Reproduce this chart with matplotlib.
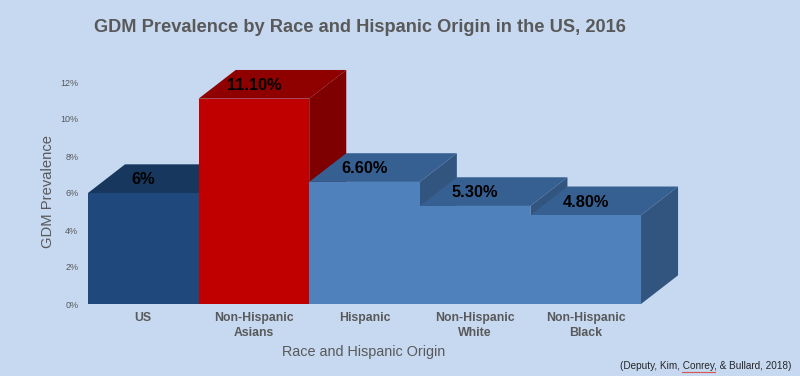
import matplotlib
matplotlib.use('Agg')
import matplotlib.pyplot as plt
from matplotlib.lines import Line2D
from matplotlib.patches import Polygon, Rectangle

plt.rcParams['font.family'] = ['Liberation Sans', 'DejaVu Sans']

categories = ['US', 'Non-Hispanic\nAsians', 'Hispanic', 'Non-Hispanic\nWhite', 'Non-Hispanic\nBlack']
values = [6.0, 11.1, 6.6, 5.3, 4.8]
value_labels = ['6%', '11.10%', '6.60%', '5.30%', '4.80%']
y_ticks = [0, 2, 4, 6, 8, 10, 12]
y_tick_labels = ['0%', '2%', '4%', '6%', '8%', '10%', '12%']

front_colors = ['#1F497D', '#C00000', '#4F81BD', '#4F81BD', '#4F81BD']
top_colors = ['#17375E', '#8F0000', '#376092', '#376092', '#376092']
side_colors = ['#17375E', '#7F0000', '#31557F', '#31557F', '#31557F']

BG = '#C6D9F1'
GRAY = '#595959'
# glebokosc "3D" w jednostkach osi
DX = 0.335
DY = 1.55

W, H = 800, 377
fig = plt.figure(figsize=(W / 100, H / 100), dpi=100, facecolor=BG)
ax = fig.add_axes([88 / W, (H - 304) / H, 553 / W, 222 / H])
ax.set_facecolor('none')
ax.set_xlim(0, len(values))
ax.set_ylim(0, 12)

for i, v in enumerate(values):
    side = [(i + 1, 0), (i + 1 + DX, DY), (i + 1 + DX, v + DY), (i + 1, v)]
    top = [(i, v), (i + 1, v), (i + 1 + DX, v + DY), (i + DX, v + DY)]
    ax.add_patch(Polygon(side, facecolor=side_colors[i], edgecolor='none', clip_on=False))
    ax.add_patch(Polygon(top, facecolor=top_colors[i], edgecolor='none', clip_on=False))
    ax.add_patch(Rectangle((i, 0), 1, v, facecolor=front_colors[i], edgecolor='none', clip_on=False))

for i, v in enumerate(values):
    ax.annotate(value_labels[i], (i + 0.5, v), xytext=(0, 9.5), textcoords='offset points',
                ha='center', va='center', fontsize=11.8, fontweight='bold', color='black')

for s in ax.spines.values():
    s.set_visible(False)

ax.set_yticks(y_ticks)
ax.set_yticklabels(y_tick_labels, fontsize=6.5, color=GRAY)
ax.set_xticks([i + 0.5 for i in range(len(values))])
ax.set_xticklabels(categories, fontsize=8.8, color=GRAY, fontweight='bold', linespacing=1.3)
ax.tick_params(axis='both', length=0)
ax.tick_params(axis='x', pad=6)
ax.tick_params(axis='y', pad=7)

fig.text(364 / W, 1 - 352 / H, 'Race and Hispanic Origin', ha='center', va='center',
         fontsize=10.4, color=GRAY)
fig.text(48 / W, 1 - 192 / H, 'GDM Prevalence', rotation=90, ha='center', va='center',
         fontsize=10.6, color=GRAY)
fig.text(360 / W, 1 - 28 / H, 'GDM Prevalence by Race and Hispanic Origin in the US, 2016',
         ha='center', va='center', fontsize=13.15, fontweight='bold', color=GRAY)
fig.text(791 / W, 1 - 366 / H, '(Deputy, Kim, Conrey, & Bullard, 2018)', ha='right', va='center',
         fontsize=7.2, color='#262626')

# czerwone podkreslenie pod "Conrey"
fig.add_artist(Line2D([682 / W, 715 / W], [1 - 372 / H, 1 - 372 / H], color='#D9534F', lw=0.8))

fig.patches.append(Rectangle((0, 0), 1, 1.2 / H, transform=fig.transFigure,
                             facecolor='white', edgecolor='none'))

fig.savefig('out.png', dpi=100, facecolor=fig.get_facecolor())
